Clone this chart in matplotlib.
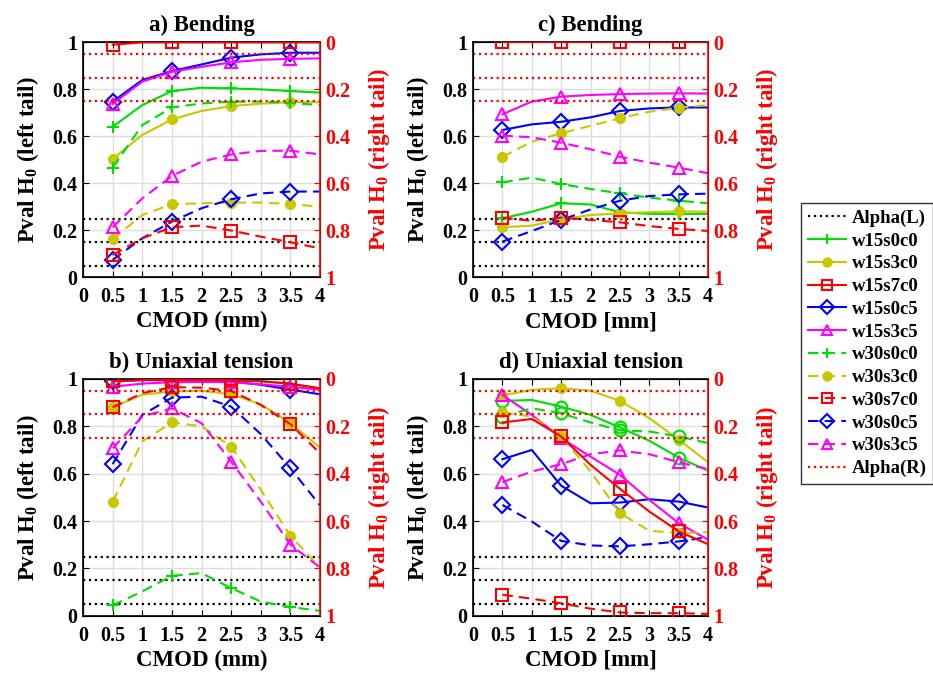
import matplotlib
matplotlib.use('Agg')
import matplotlib.pyplot as plt
from matplotlib.lines import Line2D

plt.rcParams['font.family'] = 'Liberation Serif'
plt.rcParams['font.weight'] = 'bold'
plt.rcParams['axes.labelweight'] = 'bold'
plt.rcParams['axes.titleweight'] = 'bold'
plt.rcParams['mathtext.fontset'] = 'custom'
plt.rcParams['mathtext.rm'] = 'Liberation Serif:bold'
plt.rcParams['mathtext.bf'] = 'Liberation Serif:bold'
plt.rcParams['mathtext.it'] = 'Liberation Serif:bold:italic'

cmod = [0.5, 1.0, 1.5, 2.0, 2.5, 3.0, 3.5, 4.0]
x_ticks = [0, 0.5, 1, 1.5, 2, 2.5, 3, 3.5, 4]
x_tick_labels = ['0', '0.5', '1', '1.5', '2', '2.5', '3', '3.5', '4']
y_ticks = [0, 0.2, 0.4, 0.6, 0.8, 1]
y_tick_labels = ['0', '0.2', '0.4', '0.6', '0.8', '1']
alpha_levels = [0.05, 0.15, 0.25]

series = ['w15s0c0', 'w15s3c0', 'w15s7c0', 'w15s0c5', 'w15s3c5',
          'w30s0c0', 'w30s3c0', 'w30s7c0', 'w30s0c5', 'w30s3c5']
colors = {'s0c0': '#00dd00', 's3c0': '#c8c800', 's7c0': '#ff0000',
          's0c5': '#0000ff', 's3c5': '#ff00ff'}
markers = {'s0c0': '+', 's3c0': 'o', 's7c0': 's', 's0c5': 'D', 's3c5': '^'}

# p-values read at cmod; the s7c0 series are right-tail values (right axis)
bend_a = {
    'w15s0c0': [0.641, 0.733, 0.793, 0.807, 0.804, 0.800, 0.793, 0.786],
    'w15s3c0': [0.504, 0.606, 0.672, 0.708, 0.729, 0.739, 0.746, 0.745],
    'w15s7c0': [0.010, 0.000, 0.000, 0.000, 0.000, 0.000, 0.000, 0.000],
    'w15s0c5': [0.748, 0.840, 0.878, 0.906, 0.935, 0.949, 0.956, 0.956],
    'w15s3c5': [0.738, 0.833, 0.875, 0.896, 0.915, 0.926, 0.930, 0.932],
    'w30s0c0': [0.467, 0.648, 0.723, 0.740, 0.748, 0.748, 0.743, 0.733],
    'w30s3c0': [0.163, 0.265, 0.311, 0.315, 0.318, 0.318, 0.312, 0.300],
    'w30s7c0': [0.905, 0.834, 0.787, 0.780, 0.801, 0.827, 0.851, 0.877],
    'w30s0c5': [0.074, 0.166, 0.237, 0.294, 0.332, 0.357, 0.365, 0.365],
    'w30s3c5': [0.213, 0.336, 0.431, 0.492, 0.523, 0.538, 0.539, 0.523],
}
tension_b = {
    'w15s0c0': [0.995, 0.996, 0.996, 0.996, 0.995, 0.990, 0.980, 0.960],
    'w15s3c0': [0.880, 0.933, 0.947, 0.950, 0.935, 0.893, 0.813, 0.710],
    'w15s7c0': [0.010, 0.005, 0.005, 0.005, 0.005, 0.010, 0.020, 0.040],
    'w15s0c5': [0.990, 0.995, 0.995, 0.994, 0.990, 0.975, 0.955, 0.935],
    'w15s3c5': [0.967, 0.980, 0.986, 0.987, 0.986, 0.977, 0.967, 0.954],
    'w30s0c0': [0.044, 0.103, 0.169, 0.180, 0.117, 0.060, 0.037, 0.021],
    'w30s3c0': [0.482, 0.736, 0.816, 0.800, 0.714, 0.532, 0.338, 0.204],
    'w30s7c0': [0.120, 0.060, 0.035, 0.037, 0.051, 0.110, 0.191, 0.314],
    'w30s0c5': [0.640, 0.848, 0.921, 0.925, 0.883, 0.767, 0.623, 0.466],
    'w30s3c5': [0.707, 0.841, 0.876, 0.813, 0.651, 0.482, 0.300, 0.204],
}
bend_c = {
    'w15s0c0': [0.251, 0.279, 0.315, 0.310, 0.277, 0.270, 0.270, 0.270],
    'w15s3c0': [0.213, 0.220, 0.247, 0.265, 0.272, 0.277, 0.281, 0.279],
    'w15s7c0': [0.000, 0.000, 0.000, 0.000, 0.000, 0.000, 0.000, 0.000],
    'w15s0c5': [0.627, 0.651, 0.662, 0.681, 0.708, 0.719, 0.723, 0.723],
    'w15s3c5': [0.694, 0.748, 0.769, 0.776, 0.780, 0.782, 0.783, 0.782],
    'w30s0c0': [0.404, 0.424, 0.397, 0.376, 0.357, 0.339, 0.326, 0.315],
    'w30s3c0': [0.513, 0.577, 0.613, 0.645, 0.677, 0.705, 0.722, 0.733],
    'w30s7c0': [0.746, 0.760, 0.746, 0.756, 0.766, 0.782, 0.794, 0.803],
    'w30s0c5': [0.152, 0.197, 0.244, 0.289, 0.326, 0.346, 0.353, 0.356],
    'w30s3c5': [0.603, 0.596, 0.573, 0.545, 0.513, 0.488, 0.467, 0.443],
}
tension_d = {
    'w15s0c0': [0.907, 0.911, 0.883, 0.848, 0.795, 0.739, 0.668, 0.612],
    'w15s3c0': [0.930, 0.954, 0.961, 0.950, 0.907, 0.834, 0.743, 0.648],
    'w15s7c0': [0.184, 0.169, 0.243, 0.363, 0.464, 0.560, 0.644, 0.698],
    'w15s0c5': [0.661, 0.700, 0.549, 0.475, 0.478, 0.492, 0.482, 0.457],
    'w15s3c5': [0.932, 0.848, 0.750, 0.672, 0.595, 0.489, 0.391, 0.321],
    'w30s0c0': [0.841, 0.876, 0.855, 0.816, 0.783, 0.778, 0.757, 0.729],
    'w30s3c0': [0.859, 0.841, 0.757, 0.609, 0.433, 0.359, 0.349, 0.353],
    'w30s7c0': [0.911, 0.928, 0.947, 0.970, 0.986, 0.989, 0.989, 0.992],
    'w30s0c5': [0.468, 0.398, 0.316, 0.297, 0.293, 0.302, 0.314, 0.332],
    'w30s3c5': [0.564, 0.609, 0.640, 0.682, 0.698, 0.682, 0.648, 0.619],
}

panels = [
    ([0.089, 0.588, 0.254, 0.349], 'a) Bending', 'CMOD (mm)', bend_a, '+'),
    ([0.507, 0.588, 0.252, 0.349], 'c) Bending', 'CMOD [mm]', bend_c, '+'),
    ([0.089, 0.085, 0.254, 0.352], 'b) Uniaxial tension', 'CMOD (mm)', tension_b, '+'),
    ([0.507, 0.085, 0.252, 0.352], 'd) Uniaxial tension', 'CMOD [mm]', tension_d, 'o'),
]

fig = plt.figure(figsize=(9.33, 6.73), dpi=100)

for rect, title, xlabel, data, green_marker in panels:
    ax = fig.add_axes(rect)
    axr = ax.twinx()
    for lvl in alpha_levels:
        ax.axhline(lvl, color='black', ls=':', lw=1.6, zorder=1)
        axr.axhline(lvl, color='red', ls=':', lw=1.6, zorder=1)
    for name in series:
        key = name[3:]
        mk = markers[key]
        if key == 's0c0':
            mk = green_marker
        target = axr if key == 's7c0' else ax
        ls = '-' if name.startswith('w15') else (0, (5, 3))
        face = colors[key] if key == 's3c0' else 'none'
        ms = 6.5 if key == 's3c0' else 8.5
        target.plot(cmod, data[name], color=colors[key], ls=ls, lw=1.5,
                    marker=mk, ms=ms, mfc=face, mec=colors[key], mew=1.5,
                    markevery=[0, 2, 4, 6], zorder=3)

    ax.set_xlim(0, 4)
    ax.set_ylim(0, 1)
    axr.set_ylim(1, 0)
    ax.set_xticks(x_ticks)
    ax.set_xticklabels(x_tick_labels)
    ax.set_yticks(y_ticks)
    ax.set_yticklabels(y_tick_labels)
    axr.set_yticks(y_ticks)
    axr.set_yticklabels(y_tick_labels)
    ax.grid(True, color='#dddddd', lw=1)
    ax.set_axisbelow(True)
    ax.tick_params(axis='x', direction='in', top=True, labelsize=14.5, length=4, pad=7)
    ax.tick_params(axis='y', direction='in', labelsize=14.5, length=4, pad=4)
    axr.tick_params(direction='in', colors='red', labelsize=14.5, length=4, pad=4)
    axr.spines['right'].set_color('red')
    axr.spines['right'].set_linewidth(1.2)
    for s in ['left', 'top', 'bottom']:
        ax.spines[s].set_linewidth(1.2)
    ax.set_title(title, fontsize=16.5, pad=8)
    ax.set_xlabel(xlabel, fontsize=16.5, labelpad=3)
    ax.set_ylabel('Pval H$_0$ (left tail)', fontsize=16.5, labelpad=8)
    axr.set_ylabel('Pval H$_0$ (right tail)', fontsize=16.5, color='red', labelpad=11)

handles = [Line2D([], [], color='black', ls=':', lw=1.6, label='Alpha(L)')]
for name in series:
    key = name[3:]
    ls = '-' if name.startswith('w15') else (0, (5, 3))
    face = colors[key] if key == 's3c0' else 'none'
    ms = 6 if key == 's3c0' else 7
    handles.append(Line2D([], [], color=colors[key], ls=ls, lw=1.5, marker=markers[key],
                          ms=ms, mfc=face, mec=colors[key], mew=1.5, label=name))
handles.append(Line2D([], [], color='red', ls=':', lw=1.6, label='Alpha(R)'))

leg = fig.legend(handles=handles, loc='upper left', bbox_to_anchor=(0.8585, 0.6984),
                 borderaxespad=0, fontsize=13.5, frameon=True, fancybox=False,
                 edgecolor='black', labelspacing=0.3, handlelength=2.05,
                 handletextpad=0.3, borderpad=0.35)
leg.get_frame().set_linewidth(1.0)

fig.savefig('out.png', dpi=100)
